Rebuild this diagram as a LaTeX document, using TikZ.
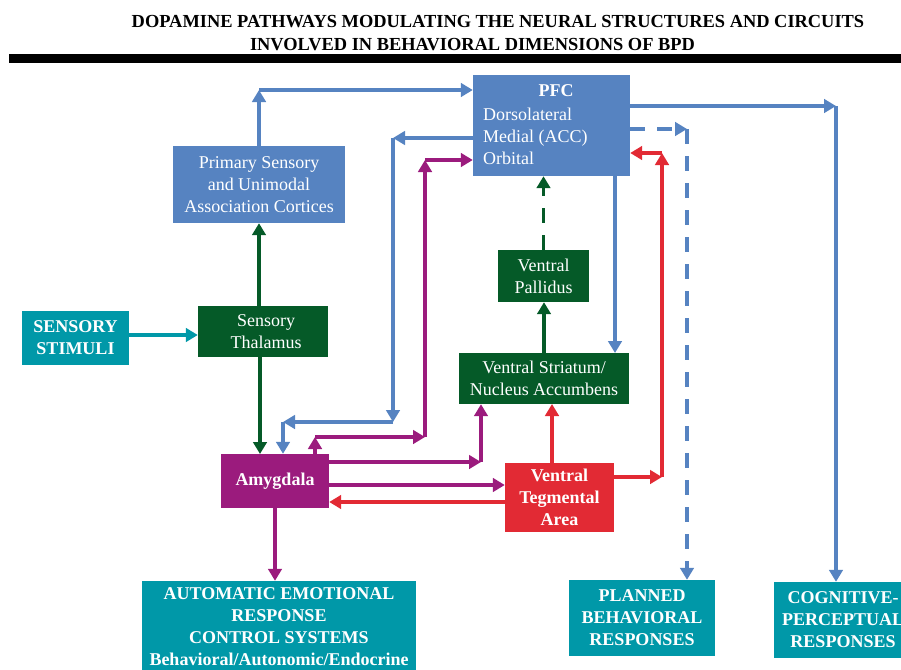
\documentclass[tikz,border=0pt]{standalone}
\usepackage{fontspec}
\setmainfont{Liberation Serif}
\usetikzlibrary{arrows.meta}
\definecolor{cblue}{RGB}{86,131,193}
\definecolor{cteal}{RGB}{0,152,168}
\definecolor{cgreen}{RGB}{5,90,40}
\definecolor{cmag}{RGB}{155,27,125}
\definecolor{cred}{RGB}{226,42,52}
\begin{document}
\begin{tikzpicture}[x=1pt,y=-1pt,
  box/.style={draw=none, inner sep=0pt, text=white, align=center, font=\fontsize{18}{22}\selectfont},
  bbox/.style={box, font=\fontsize{18}{22}\selectfont\bfseries},
  con/.style={line width=3.5pt, -{Triangle[width=13.5pt,length=12pt]}},
  dsh/.style={dash pattern=on 15pt off 12pt},
  ttl/.style={font=\fontsize{18.4}{22}\selectfont\bfseries, inner sep=0pt}
]
\useasboundingbox (0,0) rectangle (901,669);
\clip (0,0) rectangle (901,669);
\fill[white] (0,0) rectangle (901,669);

% title
\node[ttl] (t1) at (498,22) {DOPAMINE PATHWAYS MODULATING THE NEURAL STRUCTURES AND CIRCUITS};
\node[ttl] (t2) at (472.5,45) {INVOLVED IN BEHAVIORAL DIMENSIONS OF BPD};
\fill[black] (9,54) rectangle (901,63);

% boxes
\node[box, fill=cblue, minimum width=157pt, minimum height=101pt] (pfc) at (551.5,125.5) {};
\node[bbox] (pfct) at (556,91) {PFC};
\node[box, align=left, anchor=west] (pfcl) at (483,136) {Dorsolateral\\Medial (ACC)\\Orbital};
\node[box, fill=cblue, minimum width=172pt, minimum height=77pt] (ps) at (259,184.5) {Primary Sensory\\and Unimodal\\Association Cortices};
\node[bbox, fill=cteal, minimum width=107pt, minimum height=54pt] (stim) at (75.5,338) {SENSORY\\STIMULI};
\node[box, fill=cgreen, minimum width=130pt, minimum height=51pt] (thal) at (263,331.5) {\hspace*{6pt}Sensory\\\hspace*{6pt}Thalamus};
\node[bbox, fill=cmag, minimum width=108pt, minimum height=54pt] (amy) at (275,481) {Amygdala};
\node[bbox, fill=cteal, minimum width=274pt, minimum height=92pt] (auto) at (279,627) {AUTOMATIC EMOTIONAL\\RESPONSE\\CONTROL SYSTEMS\\Behavioral/Autonomic/Endocrine};
\node[box, fill=cgreen, minimum width=170pt, minimum height=51pt] (vs) at (544,378.5) {Ventral Striatum/\\Nucleus Accumbens};
\node[box, fill=cgreen, minimum width=91pt, minimum height=52pt] (vp) at (543.5,276) {Ventral\\Pallidus};
\node[bbox, fill=cred, minimum width=109pt, minimum height=69pt] (vta) at (559.5,497.5) {Ventral\\Tegmental\\Area};
\node[bbox, fill=cteal, minimum width=146pt, minimum height=76pt] (plan) at (642,618) {PLANNED\\BEHAVIORAL\\RESPONSES};
\node[bbox, fill=cteal, minimum width=138pt, minimum height=76pt] (cog) at (843,620) {COGNITIVE-\\PERCEPTUAL\\RESPONSES};

% corner coordinates
\coordinate (c1) at (259,90);
\coordinate (b1) at (473,138);
\coordinate (b2) at (393,138);
\coordinate (b3) at (393,422);
\coordinate (b4) at (283,422);
\coordinate (m4) at (315,437);
\coordinate (m5) at (425,437);
\coordinate (m6) at (425,160);
\coordinate (m1) at (329,462);
\coordinate (m2) at (481,462);
\coordinate (mV) at (329,485);
\coordinate (rA) at (505,502);
\coordinate (rV) at (552,404);
\coordinate (r1) at (614,477);
\coordinate (r2) at (662,477);
\coordinate (r3) at (662,153);
\coordinate (k1) at (630,106);
\coordinate (k2) at (836,106);
\coordinate (d1) at (630,129);
\coordinate (d2) at (687,129);
\coordinate (gA) at (260,454);
\coordinate (bV) at (615,353);

% teal
\draw[con,cteal] ([yshift=3pt]stim.east) -- ([yshift=3pt]stim.east -| thal.west);
% green
\draw[con,cgreen] (thal.north -| ps.south) -- (ps.south);
\draw[con,cgreen] (thal.south -| gA) -- (gA);
\draw[con,cgreen] (vs.north) -- (vs.north |- vp.south);
\draw[con,cgreen,dsh] (vp.north) -- (vp.north |- pfc.south);
% blue
\draw[con,cblue] (ps.north) -- (c1);
\draw[con,cblue] (c1) -- (c1 -| pfc.west);
\draw[con,cblue] (b1) -- (b2);
\draw[con,cblue] (b2) -- (b3);
\draw[con,cblue] (b3) -- (b4);
\draw[con,cblue] (b4) -- (b4 |- amy.north);
\draw[con,cblue] (pfc.south -| bV) -- (bV);
\draw[con,cblue] (k1) -- (k2);
\draw[con,cblue] (k2) -- (k2 |- cog.north);
\draw[con,cblue,dsh] (d1) -- (d2);
\draw[con,cblue,dsh] (d2) -- (d2 |- plan.north);
% magenta
\draw[con,cmag] (amy.north -| m4) -- (m4);
\draw[con,cmag] (m4) -- (m5);
\draw[con,cmag] (m5) -- (m6);
\draw[con,cmag] (m6) -- (m6 -| pfc.west);
\draw[con,cmag] (m1) -- (m2);
\draw[con,cmag] (m2) -- (m2 |- vs.south);
\draw[con,cmag] (mV) -- (mV -| vta.west);
\draw[con,cmag] (amy.south) -- (amy.south |- auto.north);
% red
\draw[con,cred] (rA) -- (rA -| amy.east);
\draw[con,cred] (vta.north -| rV) -- (rV);
\draw[con,cred] (r1) -- (r2);
\draw[con,cred] (r2) -- (r3);
\draw[con,cred] (r3) -- (r3 -| pfc.east);
\end{tikzpicture}
\end{document}
